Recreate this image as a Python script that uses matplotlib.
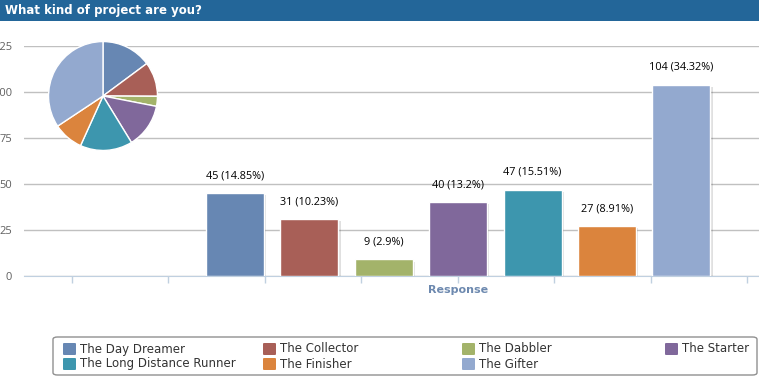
import numpy as np
import matplotlib.pyplot as plt
from matplotlib.patches import Rectangle, FancyBboxPatch
import matplotlib.patheffects as pe

# data
categories = ["The Day Dreamer", "The Collector", "The Dabbler", "The Starter",
              "The Long Distance Runner", "The Finisher", "The Gifter"]
counts = [45, 31, 9, 40, 47, 27, 104]
percents = ["14.85", "10.23", "2.9", "13.2", "15.51", "8.91", "34.32"]
colors = ["#6787B3", "#A85F57", "#A3B36A", "#80689B", "#3D96AE", "#DB843D", "#93A9CF"]
y_ticks = [0, 25, 50, 75, 100, 125]

W, H = 759, 387
fig = plt.figure(figsize=(W / 100, H / 100), dpi=100)


def fx(p):
    return p / W


def fy(p):
    return 1 - p / H


# title bar
fig.patches.append(Rectangle((0, fy(21)), 1, 21 / H, transform=fig.transFigure,
                             facecolor="#236699", edgecolor="none"))
fig.text(fx(5), fy(10.5), "What kind of project are you?", color="white",
         fontsize=8.5, fontweight="bold", va="center", ha="left")

# main bar chart
ax = fig.add_axes([fx(24), fy(276), fx(770 - 24), (276 - 46) / H])
x = np.arange(len(counts))
bars = ax.bar(x, counts, width=0.78, color=colors, edgecolor="white", linewidth=1,
              zorder=3)
for b in bars:
    b.set_path_effects([pe.SimplePatchShadow(offset=(1.5, -1.5), shadow_rgbFace="#000000",
                                             alpha=0.12), pe.Normal()])
for xi, c, p in zip(x, counts, percents):
    ax.annotate(f"{c} ({p}%)", (xi, c), xytext=(0, 12.5), textcoords="offset points",
                ha="center", va="center", fontsize=7.8, family="Open Sans",
                color="#000000", zorder=4)

ax.set_xlim(-2.836, 7.19)
ax.set_ylim(0, 125)
ax.set_yticks(y_ticks)
ax.set_yticklabels([str(t) for t in y_ticks], fontsize=8, color="#606060",
                   family="Open Sans")
ax.tick_params(axis="y", length=0, pad=8.5)
ax.set_xticks(np.arange(8) * 1.2957 - 2.19)
ax.set_xticklabels([])
ax.tick_params(axis="x", length=5, color="#C0D0E0", width=1)
ax.grid(axis="y", color="#C0C0C0", linewidth=1, zorder=0)
for s in ["top", "right", "left"]:
    ax.spines[s].set_visible(False)
ax.spines["bottom"].set_color("#C0D0E0")
ax.set_xlabel("Response", fontsize=8, fontweight="bold", color="#6D89AF", labelpad=3)
ax.xaxis.set_label_coords(fx(458 - 24) / fx(770 - 24), -0.04)
ax.xaxis.label.set_va("top")

# pie inset
pax = fig.add_axes([fx(48), fy(151), 110 / W, 110 / H])
pax.pie(counts, colors=colors, startangle=90, counterclock=False,
        wedgeprops=dict(edgecolor="white", linewidth=1))
pax.set_xlim(-1.01, 1.01)
pax.set_ylim(-1.01, 1.01)
pax.set_aspect("equal")

# legend (manual grid to match layout)
fig.patches.append(FancyBboxPatch((fx(53), fy(375)), fx(757 - 53), 38 / H,
                                  boxstyle="round,pad=0,rounding_size=0.006",
                                  transform=fig.transFigure, facecolor="white",
                                  edgecolor="#909090", linewidth=1))
col_x = [63, 263, 462, 665]
row_y = [349, 364]
for i, (name, col) in enumerate(zip(categories, colors)):
    cx = col_x[i % 4]
    ry = row_y[i // 4]
    fig.patches.append(FancyBboxPatch((fx(cx), fy(ry + 6)), fx(13), 12 / H,
                                      boxstyle="round,pad=0,rounding_size=0.002",
                                      transform=fig.transFigure, facecolor=col,
                                      edgecolor="none"))
    fig.text(fx(cx + 17), fy(ry), name, fontsize=8.5, color="#333333",
             va="center", ha="left")

fig.savefig("out.png", dpi=100)
